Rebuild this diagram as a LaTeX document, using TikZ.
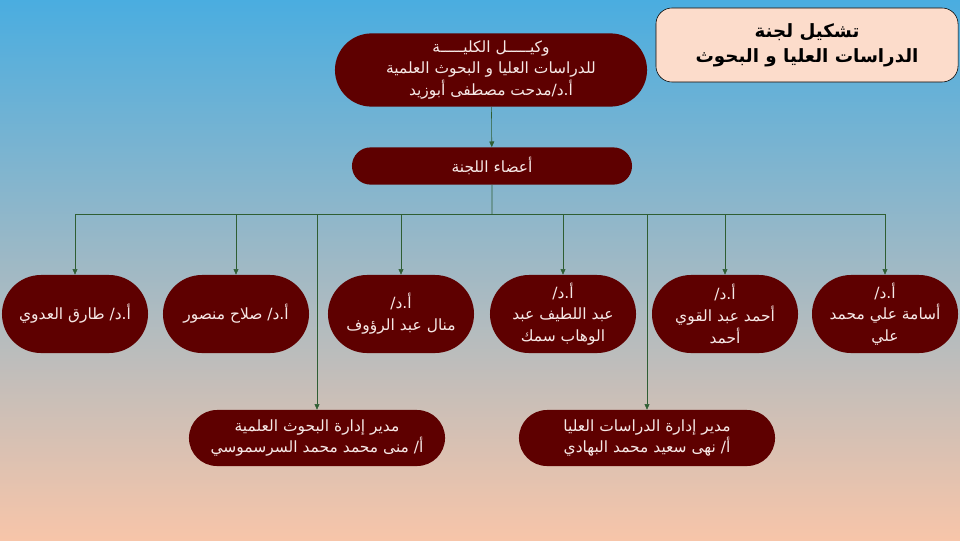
\documentclass[tikz,border=0pt]{standalone}
\usepackage{fontspec}
\usetikzlibrary{shapes.misc,arrows.meta}
\TeXXeTstate=1
\newfontfamily\arabicfont[Script=Arabic]{DejaVu Sans}
\newcommand{\rl}[1]{\beginR#1\endR}
\definecolor{boxred}{HTML}{5E0000}
\definecolor{boxtext}{HTML}{F6E8E6}
\definecolor{link}{HTML}{2F5E33}
\definecolor{titlefill}{HTML}{FCDCCB}
\definecolor{skytop}{HTML}{4AADE0}
\definecolor{skymid}{HTML}{C8C1BC}
\definecolor{skybot}{HTML}{F7C5A9}

\begin{document}
\begin{tikzpicture}[x=0.025cm,y=-0.025cm,
    pill/.style={rounded rectangle,fill=boxred,text=boxtext,inner sep=0pt,
      align=center,font=\arabicfont\fontsize{11}{15.5}\selectfont},
    member/.style={pill,minimum width=3.65cm,minimum height=1.95cm},
    head/.style={pill,minimum width=6.4cm,minimum height=1.4cm},
    arr/.style={link,-{Triangle[length=4pt,width=3.5pt]}},
    ln/.style={link}]
        \shade[top color=skytop,middle color=skymid,bottom color=skybot]
        (0,0) rectangle (960,540);
        \useasboundingbox (0,0) rectangle (960,540);

        \node[draw=black,fill=titlefill,rounded corners=0.4cm,
          minimum width=7.55cm,minimum height=1.85cm,align=center,
          font=\arabicfont\bfseries\fontsize{13}{18}\selectfont]
          (title) at (807,45) {\rl{تشكيل لجنة}\\\rl{الدراسات العليا و البحوث}};

        \path
        (491,70) node[pill,minimum width=7.8cm,minimum height=1.83cm] (dean)
          {\rl{وكيـــــل الكليـــــة}\\\rl{للدراسات العليا و البحوث العلمية}\\\rl{أ.د/مدحت مصطفى أبوزيد}}
        (492,166) node[pill,minimum width=7cm,minimum height=0.93cm] (members)
          {\rl{أعضاء اللجنة}}
        (492,214) coordinate (bar)
        ;

        \path
        (75,314) node[member] (m1) {\rl{أ.د/ طارق العدوي}}
        (236,314) node[member] (m2) {\rl{أ.د/ صلاح منصور}}
        (401,314) node[member] (m3) {\rl{أ.د/}\\\rl{منال عبد الرؤوف}}
        (563,314) node[member] (m4) {\rl{أ.د/}\\\rl{عبد اللطيف عبد}\\\rl{الوهاب سمك}}
        (725,314) node[member] (m5) {\rl{أ.د/}\\\rl{أحمد عبد القوي}\\\rl{أحمد}}
        (885,314) node[member] (m6) {\rl{أ.د/}\\\rl{أسامة علي محمد}\\\rl{علي}}
        ;

        \path
        (317,438) node[head] (res) {\rl{مدير إدارة البحوث العلمية}\\\rl{أ/ منى محمد محمد السرسموسي}}
        (647,438) node[head] (grad) {\rl{مدير إدارة الدراسات العليا}\\\rl{أ/ نهى سعيد محمد البهادي}}
        ;

        \draw[arr] (dean) -- (members);
        \draw[ln] (members) -- (bar);
        \draw[ln] (m1 |- bar) -- (m6 |- bar);
        \foreach \m in {m1,m2,m3,m4,m5,m6}
          \draw[arr] (\m |- bar) -- (\m.north);
        \draw[arr] (res |- bar) -- (res.north);
        \draw[arr] (grad |- bar) -- (grad.north);
\end{tikzpicture}
\end{document}
